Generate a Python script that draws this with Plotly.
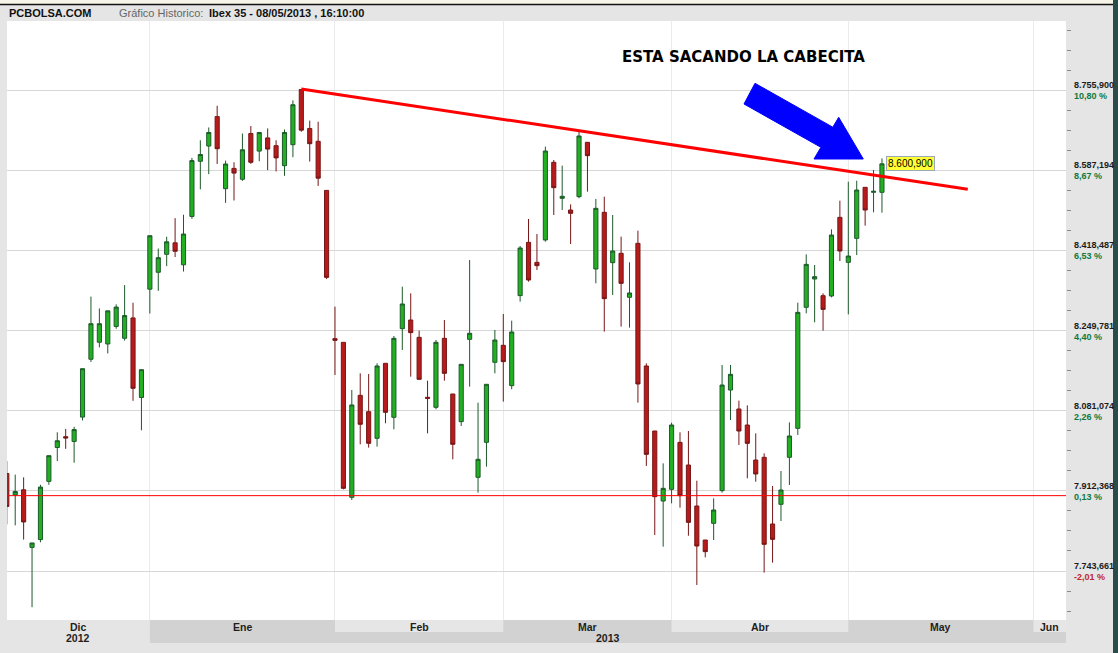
import plotly.graph_objects as go

# ---- Daily Ibex 35 session data (trading-day index on x) ----
OPEN = [7948.8, 7903.9, 7914.6, 7793.4, 7809.8, 7932.4, 8003.6, 8026.4, 8016.4, 8067.7,
        8189.5, 8225.2, 8221.6, 8258.6, 8233.7, 8276.5, 8109.0, 8337.0, 8372.6, 8410.4,
        8434.6, 8388.3, 8490.2, 8606.3, 8638.4, 8700.3, 8548.6, 8591.3, 8568.5, 8664.7,
        8627.7, 8655.5, 8639.1, 8597.0, 8641.2, 8757.3, 8675.4, 8648.3, 8545.0, 8232.8,
        8225.1, 7898.8, 8113.5, 8079.1, 8023.0, 8180.9, 8067.2, 8253.9, 8272.1, 8235.6,
        8109.3, 8088.3, 8233.5, 8116.3, 8058.1, 8231.4, 7940.9, 8014.6, 8183.0, 8218.8,
        8133.9, 8323.4, 8435.6, 8393.5, 8440.6, 8604.1, 8528.3, 8503.7, 8531.8, 8646.2,
        8379.5, 8498.8, 8392.8, 8412.5, 8319.9, 8433.5, 8175.3, 8038.4, 7891.0, 7915.6,
        8014.5, 7966.8, 7880.5, 7808.9, 7844.0, 7912.8, 8124.7, 8084.7, 8051.0, 7977.3,
        7983.0, 7842.6, 7884.0, 7983.0, 8044.0, 8298.8, 8358.4, 8323.3, 8322.6, 8488.2,
        8393.5, 8444.0, 8551.4, 8540.9, 8540.9]
HIGH = [7975.1, 7946.6, 7940.9, 7802.7, 7925.2, 7986.5, 8035.7, 8042.8, 8047.1, 8169.6,
        8321.3, 8296.4, 8291.4, 8305.0, 8345.6, 8308.5, 8167.5, 8449.6, 8422.5, 8447.4,
        8486.6, 8493.7, 8613.4, 8650.5, 8677.5, 8723.1, 8607.7, 8604.2, 8664.7, 8680.4,
        8666.9, 8675.4, 8650.5, 8673.3, 8734.5, 8757.3, 8691.8, 8689.6, 8545.0, 8300.2,
        8225.1, 8124.8, 8159.8, 8158.4, 8180.9, 8180.9, 8238.4, 8342.3, 8328.3, 8249.7,
        8144.4, 8230.0, 8272.1, 8116.3, 8178.8, 8398.5, 8098.1, 8136.7, 8251.1, 8284.8,
        8270.7, 8427.9, 8484.8, 8453.2, 8637.1, 8609.0, 8597.1, 8515.6, 8668.6, 8646.2,
        8526.9, 8531.8, 8493.2, 8447.6, 8393.5, 8460.2, 8180.9, 8038.4, 7970.3, 8055.9,
        8035.6, 8038.4, 7933.8, 7808.9, 7896.6, 8177.4, 8177.4, 8102.3, 8092.4, 8033.5,
        7991.4, 7922.6, 7954.2, 8056.6, 8308.6, 8410.3, 8387.9, 8328.2, 8463.0, 8523.3,
        8563.3, 8565.4, 8551.4, 8587.9, 8612.4]
LOW = [7841.9, 7839.8, 7809.8, 7667.4, 7804.1, 7925.2, 7975.1, 8000.8, 7971.6, 8060.6,
       8183.8, 8214.5, 8201.7, 8253.7, 8228.7, 8101.9, 8039.9, 8285.7, 8333.4, 8385.5,
       8404.7, 8374.1, 8485.2, 8547.2, 8579.2, 8600.6, 8518.7, 8523.7, 8565.0, 8600.6,
       8606.3, 8587.8, 8584.9, 8575.7, 8614.8, 8668.3, 8605.6, 8554.3, 8358.4, 8156.3,
       7915.6, 7893.2, 8010.4, 8003.4, 8005.5, 8054.6, 8042.0, 8209.0, 8152.8, 8147.2,
       8033.5, 8084.1, 8144.4, 7978.8, 8049.0, 8131.8, 7908.6, 7963.4, 8159.8, 8100.2,
       8126.2, 8310.7, 8352.8, 8377.4, 8437.0, 8493.2, 8503.7, 8432.1, 8528.3, 8542.3,
       8349.3, 8247.6, 8324.8, 8258.1, 8256.0, 8098.1, 7964.8, 7819.5, 7794.9, 7886.1,
       7877.0, 7818.0, 7714.2, 7772.4, 7808.9, 7908.6, 8061.6, 8008.9, 7938.8, 7931.7,
       7740.2, 7761.2, 7848.9, 7924.7, 8030.0, 8286.1, 8267.2, 8249.6, 8319.8, 8396.3,
       8284.0, 8408.9, 8470.7, 8498.8, 8498.1]
CLOSE = [7879.7, 7911.0, 7846.9, 7802.7, 7920.3, 7986.5, 8017.9, 8023.6, 8041.4, 8169.6,
         8264.3, 8264.3, 8291.4, 8299.3, 8281.4, 8128.3, 8167.5, 8449.6, 8403.3, 8436.7,
         8416.8, 8453.1, 8607.7, 8620.5, 8666.9, 8632.7, 8600.6, 8581.4, 8630.5, 8604.2,
         8666.9, 8631.9, 8613.4, 8666.9, 8725.3, 8671.8, 8643.3, 8570.7, 8361.9, 8229.3,
         7917.7, 8093.2, 8052.5, 8012.5, 8175.3, 8077.7, 8233.5, 8305.8, 8245.5, 8147.2,
         8107.2, 8225.1, 8159.8, 8010.4, 8178.8, 8244.1, 7978.8, 8136.7, 8230.0, 8184.4,
         8246.9, 8423.7, 8356.3, 8386.5, 8627.9, 8550.7, 8532.5, 8496.7, 8659.5, 8618.1,
         8507.2, 8317.0, 8417.4, 8349.3, 8329.0, 8137.4, 7989.3, 7900.2, 7917.7, 8051.0,
         7902.3, 7846.1, 7796.3, 7784.4, 7872.1, 8135.2, 8157.7, 8038.4, 8012.4, 7947.9,
         7799.8, 7810.3, 7914.2, 8027.9, 8288.2, 8389.3, 8363.3, 8294.5, 8451.0, 8417.4,
         8406.8, 8545.8, 8503.7, 8543.0, 8600.9]
SESSION = list(range(len(CLOSE)))

# first trading session of each month (index on the same x scale)
MONTH_LABELS = ["Dic", "Ene", "Feb", "Mar", "Abr", "May", "Jun"]
MONTH_START = [17, 39, 59, 79, 100, 122]
YEAR_LABELS = ["2012", "2013"]

# right-hand price levels and reference close for the % scale
PRICE_LEVELS = [7743.661, 7912.368, 8081.074, 8249.781, 8418.487, 8587.194, 8755.900]
BASE_CLOSE = 7902.3

# resistance line drawn from the January high
TREND_X = [35.0, 114.2]
TREND_Y = [8758.5, 8547.2]

TITLE_TEXT = "ESTA SACANDO LA CABECITA"

# ---- geometry ----
W, H = 1118, 653
PL, PR, PT, PB = 7, 1066, 21, 620
XMIN, XMAX = 0.024, 125.87
YMIN, YMAX = 7640.5, 8901.6


def px_x(p):
    return (p - PL) / (PR - PL)


def px_y(p):
    return (PB - p) / (PB - PT)


def idx_x(i):
    return (i - XMIN) / (XMAX - XMIN)


def es_num(v, dec=3):
    s = f"{v:,.{dec}f}"
    return s.replace(",", "#").replace(".", ",").replace("#", ".")


FONT = "Liberation Sans, Arial, sans-serif"

fig = go.Figure()

fig.add_trace(go.Candlestick(
    x=SESSION, open=OPEN, high=HIGH, low=LOW, close=CLOSE,
    increasing=dict(line=dict(color="#1d5a2a", width=1), fillcolor="#22b022"),
    decreasing=dict(line=dict(color="#761616", width=1), fillcolor="#b81b1b"),
    whiskerwidth=0, showlegend=False, hoverinfo="skip",
))

# reference close line, drawn as a trace across the full session range
fig.add_trace(go.Scatter(
    x=[XMIN, XMAX], y=[BASE_CLOSE, BASE_CLOSE], mode="lines",
    line=dict(color="#ff0000", width=1), showlegend=False, hoverinfo="skip",
))

fig.add_trace(go.Scatter(
    x=TREND_X, y=TREND_Y, mode="lines",
    line=dict(color="#ff0000", width=3), showlegend=False, hoverinfo="skip",
))

shapes = []
annotations = []

# top strip and frame
shapes.append(dict(type="rect", xref="paper", yref="paper", x0=px_x(0), x1=px_x(1113),
                   y0=px_y(0), y1=px_y(4), fillcolor="#f7f5e8", line=dict(width=0), layer="below"))
shapes.append(dict(type="line", xref="paper", yref="paper", x0=px_x(0), x1=px_x(1113),
                   y0=px_y(4.5), y1=px_y(4.5), line=dict(color="#111111", width=1.5)))
shapes.append(dict(type="rect", xref="paper", yref="paper", x0=px_x(1113), x1=px_x(1118),
                   y0=px_y(0), y1=px_y(653), fillcolor="#2b4a4a", line=dict(width=0)))

# month / year bands under the plot
DARK_BAND = "#d2d2d2"
LIGHT_BAND = "#e6e6e6"
shapes.append(dict(type="rect", xref="paper", yref="paper",
                   x0=idx_x(MONTH_START[0]), x1=1, y0=px_y(620), y1=px_y(643),
                   fillcolor=DARK_BAND, line=dict(width=0)))
edges = [XMIN] + MONTH_START + [XMAX]
for k in range(len(MONTH_LABELS)):
    a, b = edges[k], edges[k + 1]
    if k % 2 == 0 and k > 0:
        shapes.append(dict(type="rect", xref="paper", yref="paper",
                           x0=idx_x(a), x1=idx_x(b), y0=px_y(620), y1=px_y(632),
                           fillcolor=LIGHT_BAND, line=dict(width=0)))
    annotations.append(dict(text=f"<b>{MONTH_LABELS[k]}</b>", xref="paper", yref="paper",
                            x=idx_x((a + b) / 2), y=px_y(626.5), xanchor="center", yanchor="middle",
                            showarrow=False, font=dict(family=FONT, size=10.5, color="#1e1e1e")))
# year labels centred in their spans
annotations.append(dict(text=f"<b>{YEAR_LABELS[0]}</b>", xref="paper", yref="paper",
                        x=idx_x((XMIN + MONTH_START[0]) / 2), y=px_y(638), xanchor="center",
                        yanchor="middle", showarrow=False,
                        font=dict(family=FONT, size=10.5, color="#1e1e1e")))
annotations.append(dict(text=f"<b>{YEAR_LABELS[1]}</b>", xref="paper", yref="paper",
                        x=idx_x((MONTH_START[0] + XMAX) / 2), y=px_y(638), xanchor="center",
                        yanchor="middle", showarrow=False,
                        font=dict(family=FONT, size=10.5, color="#1e1e1e")))

# right axis labels: price and % change vs reference close
for v in PRICE_LEVELS:
    pct = (v / BASE_CLOSE - 1) * 100
    annotations.append(dict(text=f"<b>{es_num(v)}</b>", xref="paper", yref="y", x=1, y=v,
                            xanchor="left", yanchor="middle", xshift=7, yshift=5, showarrow=False,
                            borderpad=0, font=dict(family=FONT, size=9, color="#1c1c1c")))
    annotations.append(dict(text=f"<b>{es_num(pct, 2)} %</b>", xref="paper", yref="y", x=1, y=v,
                            xanchor="left", yanchor="middle", xshift=7, yshift=-6, showarrow=False,
                            borderpad=0,
                            font=dict(family=FONT, size=9,
                                      color="#0e7a3c" if pct >= 0 else "#c0282d")))

# header line
annotations.append(dict(text="<b>PCBOLSA.COM</b>", xref="paper", yref="paper", x=px_x(8), y=px_y(13),
                        xanchor="left", yanchor="middle", showarrow=False, borderpad=0,
                        font=dict(family=FONT, size=11, color="#111111")))
annotations.append(dict(text="Gráfico Historico:", xref="paper", yref="paper", x=px_x(118), y=px_y(13),
                        xanchor="left", yanchor="middle", showarrow=False, borderpad=0,
                        font=dict(family=FONT, size=11, color="#666666")))
annotations.append(dict(text="<b>Ibex 35 - 08/05/2013 , 16:10:00</b>", xref="paper", yref="paper",
                        x=px_x(208), y=px_y(13), xanchor="left", yanchor="middle", showarrow=False,
                        borderpad=0, font=dict(family=FONT, size=11, color="#111111")))

# chart comment
annotations.append(dict(text=f"<b>{TITLE_TEXT}</b>", xref="paper", yref="paper",
                        x=px_x(743), y=px_y(57), xanchor="center", yanchor="middle",
                        showarrow=False, font=dict(family="DejaVu Sans", size=15, color="#000000")))

# last close tag
annotations.append(dict(text=es_num(CLOSE[-1]), xref="x", yref="y", x=SESSION[-1], y=CLOSE[-1],
                        xanchor="left", yanchor="middle", xshift=4, showarrow=False,
                        bgcolor="#ffff33", bordercolor="#9aa8b8", borderwidth=1, borderpad=1,
                        font=dict(family=FONT, size=10, color="#000000")))

# blue arrow pointing at the breakout
ARROW_PX = [(755.0, 83.3), (832.8, 127.2), (838.7, 117.3), (863.3, 159.0),
            (814.0, 159.0), (820.9, 147.3), (744.0, 104.0)]
path = "M " + " L ".join(f"{px_x(x):.5f},{px_y(y):.5f}" for x, y in ARROW_PX) + " Z"
shapes.append(dict(type="path", xref="paper", yref="paper", path=path,
                   fillcolor="#0000ff", line=dict(color="#0000ff", width=1)))

# quarter-step minor ticks on the price axis
step = (PRICE_LEVELS[1] - PRICE_LEVELS[0]) / 4
minor_vals = []
t = PRICE_LEVELS[0] - 4 * step
while t < YMAX:
    if YMIN < t and all(abs(t - p) > 1 for p in PRICE_LEVELS):
        minor_vals.append(t)
    t += step

fig.update_layout(
    width=W, height=H,
    margin=dict(l=PL, r=W - PR, t=PT, b=H - PB, pad=0),
    paper_bgcolor="#e5e5e5", plot_bgcolor="#ffffff",
    shapes=shapes, annotations=annotations,
    showlegend=False,
    xaxis=dict(range=[XMIN, XMAX], rangeslider=dict(visible=False), tickmode="array",
               tickvals=MONTH_START, showticklabels=False, ticks="", showgrid=True,
               gridcolor="#ebebeb", gridwidth=1, zeroline=False, showline=False, fixedrange=True),
    yaxis=dict(range=[YMIN, YMAX], side="right", tickmode="array", tickvals=PRICE_LEVELS,
               showticklabels=False, ticks="", showgrid=True, gridcolor="#d7d7d7", gridwidth=1,
               zeroline=False, showline=False, fixedrange=True,
               minor=dict(tickmode="array", tickvals=minor_vals, ticks="outside", ticklen=4,
                          tickwidth=1, tickcolor="#8a8a8a", showgrid=False)),
)

fig.write_html("out.html")
